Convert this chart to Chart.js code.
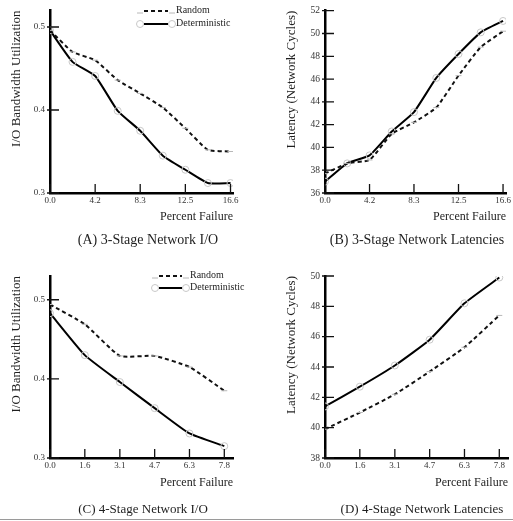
<!DOCTYPE html>
<html>
<head>
<meta charset="utf-8">
<script src="https://cdn.jsdelivr.net/npm/chart.js@4.4.1/dist/chart.umd.min.js"></script>
<style>
  body { margin: 0; background: #fff; }
  #wrap { position: relative; width: 513px; height: 521px; overflow: hidden; }
  canvas { position: absolute; }
  #rule { position: absolute; left: 0; top: 519px; width: 513px; height: 1px; background: #9a9a9a; }
</style>
</head>
<body>
<div id="wrap">
  <canvas id="ioChart3" width="256" height="250" style="left:0;top:0"></canvas>
  <canvas id="latChart3" width="257" height="250" style="left:256px;top:0"></canvas>
  <canvas id="ioChart4" width="256" height="271" style="left:0;top:250px"></canvas>
  <canvas id="latChart4" width="257" height="271" style="left:256px;top:250px"></canvas>
  <div id="rule"></div>
</div>
<script>
// percent failure (x) for the 3-stage and 4-stage networks
const failure3 = [0, 2.08, 4.17, 6.25, 8.33, 10.42, 12.5, 14.58, 16.67];
const failure3Ticks = [0, 4.17, 8.33, 12.5, 16.67];
const failure3Labels = ['0.0', '4.2', '8.3', '12.5', '16.6'];
const failure4 = [0, 1.56, 3.13, 4.69, 6.25, 7.81];
const failure4Labels = ['0.0', '1.6', '3.1', '4.7', '6.3', '7.8'];

// (A) 3-stage I/O bandwidth utilization
const ioRandom3 = [0.496, 0.470, 0.460, 0.436, 0.420, 0.403, 0.378, 0.352, 0.350];
const ioDet3 = [0.496, 0.458, 0.441, 0.399, 0.375, 0.345, 0.328, 0.312, 0.312];
// (B) 3-stage latency
const latRandom3 = [37.7, 38.6, 38.9, 41.2, 42.2, 43.5, 46.3, 48.8, 50.2];
const latDet3 = [37.0, 38.6, 39.3, 41.4, 43.1, 46.1, 48.2, 50.1, 51.1];
// (C) 4-stage I/O bandwidth utilization
const ioRandom4 = [0.494, 0.469, 0.429, 0.429, 0.415, 0.385];
const ioDet4 = [0.483, 0.430, 0.396, 0.363, 0.331, 0.315];
// (D) 4-stage latency
const latRandom4 = [39.9, 41.0, 42.2, 43.7, 45.3, 47.4];
const latDet4 = [41.4, 42.7, 44.1, 45.8, 48.2, 49.9];

const ioTicks = [0.3, 0.4, 0.5];
const latTicks3 = [36, 38, 40, 42, 44, 46, 48, 50, 52];
const latTicks4 = [38, 40, 42, 44, 46, 48, 50];

const serif = '"Liberation Serif", "Times New Roman", serif';

// caption under each panel
const captionPlugin = {
  id: 'caption',
  afterDraw(chart, args, opts) {
    const ctx = chart.ctx;
    ctx.save();
    ctx.fillStyle = '#1e1e1e';
    ctx.font = opts.size + 'px ' + serif;
    ctx.textAlign = 'center';
    ctx.textBaseline = 'middle';
    ctx.fillText(opts.text, opts.x, opts.y);
    ctx.restore();
  }
};

// tick marks pointing into the plot
const inwardTicks = {
  id: 'inwardTicks',
  afterDraw(chart) {
    const ctx = chart.ctx;
    const a = chart.chartArea;
    ctx.save();
    ctx.strokeStyle = '#111';
    ctx.lineWidth = 1.3;
    ctx.beginPath();
    chart.scales.x.ticks.forEach(t => {
      const px = chart.scales.x.getPixelForValue(t.value);
      ctx.moveTo(px, a.bottom);
      ctx.lineTo(px, a.bottom - 9);
    });
    chart.scales.y.ticks.forEach(t => {
      const py = chart.scales.y.getPixelForValue(t.value);
      ctx.moveTo(a.left - 3, py);
      ctx.lineTo(a.left + 9, py);
    });
    ctx.stroke();
    ctx.restore();
  }
};

function marker(ctx, ds, x, y) {
  ctx.beginPath();
  if (ds.pointStyle === 'line') {
    ctx.moveTo(x - ds.pointRadius, y);
    ctx.lineTo(x + ds.pointRadius, y);
  } else {
    ctx.arc(x, y, ds.pointRadius, 0, Math.PI * 2);
  }
  ctx.stroke();
}

// small key: marker - line - marker, then label
const keyPlugin = {
  id: 'key',
  afterDraw(chart, args, opts) {
    if (!opts.rows) return;
    const ctx = chart.ctx;
    chart.data.datasets.forEach((ds, i) => {
      const y = opts.rows[i];
      ctx.save();
      ctx.strokeStyle = ds.borderColor;
      ctx.lineWidth = ds.borderWidth;
      ctx.setLineDash(ds.borderDash || []);
      ctx.beginPath();
      ctx.moveTo(opts.x0 + 4, y);
      ctx.lineTo(opts.x1 - 4, y);
      ctx.stroke();
      ctx.setLineDash([]);
      ctx.strokeStyle = ds.pointBorderColor;
      ctx.lineWidth = ds.pointBorderWidth;
      const drop = ds.pointStyle === 'line' ? 2 : 0;
      marker(ctx, ds, opts.x0, y + drop);
      marker(ctx, ds, opts.x1, y + drop);
      ctx.fillStyle = '#1e1e1e';
      ctx.font = '10px ' + serif;
      ctx.textAlign = 'left';
      ctx.textBaseline = 'middle';
      ctx.fillText(ds.label, opts.x1 + 4, y - 1);
      ctx.restore();
    });
  }
};

function points(xs, ys) {
  return xs.map((x, i) => ({ x: x, y: ys[i] }));
}

function panel(id, p) {
  const canvas = document.getElementById(id);
  const W = canvas.width, H = canvas.height;
  return new Chart(canvas, {
    type: 'line',
    data: {
      datasets: [{
        label: 'Random',
        data: points(p.x, p.random),
        borderColor: '#111',
        borderWidth: 2,
        borderDash: [4, 3],
        pointStyle: 'line',
        pointRadius: 3,
        pointBorderColor: '#b8b8b8',
        pointBorderWidth: 1,
        tension: 0.15,
        fill: false
      }, {
        label: 'Deterministic',
        data: points(p.x, p.det),
        borderColor: '#000',
        borderWidth: 2,
        pointStyle: 'circle',
        pointRadius: 3.5,
        pointBackgroundColor: 'rgba(0,0,0,0)',
        pointBorderColor: '#c8c8c8',
        pointBorderWidth: 1,
        tension: 0.15,
        fill: false
      }]
    },
    options: {
      responsive: false,
      animation: false,
      devicePixelRatio: 1,
      layout: { padding: { left: 0, top: p.area.top, right: W - p.area.right, bottom: 0 } },
      plugins: {
        legend: { display: false },
        tooltip: { enabled: false },
        caption: p.caption,
        key: p.key || {}
      },
      scales: {
        x: {
          type: 'linear',
          min: 0,
          max: p.xMax,
          afterBuildTicks: s => { s.ticks = p.xTicks.map(v => ({ value: v })); },
          afterFit: s => { s.height = H - p.area.bottom; },
          grid: { display: false, drawTicks: false },
          border: { color: '#000', width: 2.5 },
          ticks: {
            autoSkip: false, maxRotation: 0, padding: 2,
            color: '#333', font: { family: serif, size: 9 },
            callback: (v, i) => p.xLabels[i]
          },
          title: {
            display: true, text: 'Percent Failure', align: 'end',
            color: '#1e1e1e', font: { family: serif, size: 12 },
            padding: { top: 0, bottom: p.xTitlePad }
          }
        },
        y: {
          min: p.yMin,
          max: p.yMax,
          afterBuildTicks: s => { s.ticks = p.yTicks.map(v => ({ value: v })); },
          afterFit: s => { s.width = p.area.left; },
          grid: { display: false, drawTicks: false },
          border: { color: '#000', width: 2.5 },
          ticks: {
            autoSkip: false, padding: 5,
            color: '#333', font: { family: serif, size: p.yTickSize },
            callback: v => v.toFixed(p.yDigits)
          },
          title: {
            display: true, text: p.yTitle, align: 'end',
            color: '#1e1e1e', font: { family: serif, size: 13 },
            padding: { top: p.yTitlePad, bottom: 0 }
          }
        }
      }
    },
    plugins: [inwardTicks, captionPlugin, keyPlugin]
  });
}

panel('ioChart3', {
  x: failure3, random: ioRandom3, det: ioDet3,
  xTicks: failure3Ticks, xLabels: failure3Labels, xMax: 16.9,
  yMin: 0.3, yMax: 0.52, yTicks: ioTicks, yDigits: 1, yTickSize: 9,
  yTitle: 'I/O Bandwidth Utilization', yTitlePad: 9, xTitlePad: 26,
  area: { left: 50, right: 233, top: 10, bottom: 193 },
  caption: { text: '(A) 3-Stage Network I/O', x: 148, y: 240, size: 14 },
  key: { rows: [11, 24], x0: 140, x1: 172 }
});

panel('latChart3', {
  x: failure3, random: latRandom3, det: latDet3,
  xTicks: failure3Ticks, xLabels: failure3Labels, xMax: 16.95,
  yMin: 36, yMax: 52, yTicks: latTicks3, yDigits: 0, yTickSize: 9.5,
  yTitle: 'Latency (Network Cycles)', yTitlePad: 28, xTitlePad: 26,
  area: { left: 69, right: 252, top: 10, bottom: 193 },
  caption: { text: '(B) 3-Stage Network Latencies', x: 161, y: 240, size: 14 }
});

panel('ioChart4', {
  x: failure4, random: ioRandom4, det: ioDet4,
  xTicks: failure4, xLabels: failure4Labels, xMax: 8.2,
  yMin: 0.3, yMax: 0.53, yTicks: ioTicks, yDigits: 1, yTickSize: 9,
  yTitle: 'I/O Bandwidth Utilization', yTitlePad: 9, xTitlePad: 30.5,
  area: { left: 50, right: 233, top: 26, bottom: 208 },
  caption: { text: '(C) 4-Stage Network I/O', x: 143, y: 260, size: 13 },
  key: { rows: [26, 38], x0: 155, x1: 186 }
});

panel('latChart4', {
  x: failure4, random: latRandom4, det: latDet4,
  xTicks: failure4, xLabels: failure4Labels, xMax: 8.2,
  yMin: 38, yMax: 50, yTicks: latTicks4, yDigits: 0, yTickSize: 9.5,
  yTitle: 'Latency (Network Cycles)', yTitlePad: 28, xTitlePad: 30.5,
  area: { left: 69, right: 252, top: 26, bottom: 208 },
  caption: { text: '(D) 4-Stage Network Latencies', x: 166, y: 260, size: 13 }
});
</script>
</body>
</html>
